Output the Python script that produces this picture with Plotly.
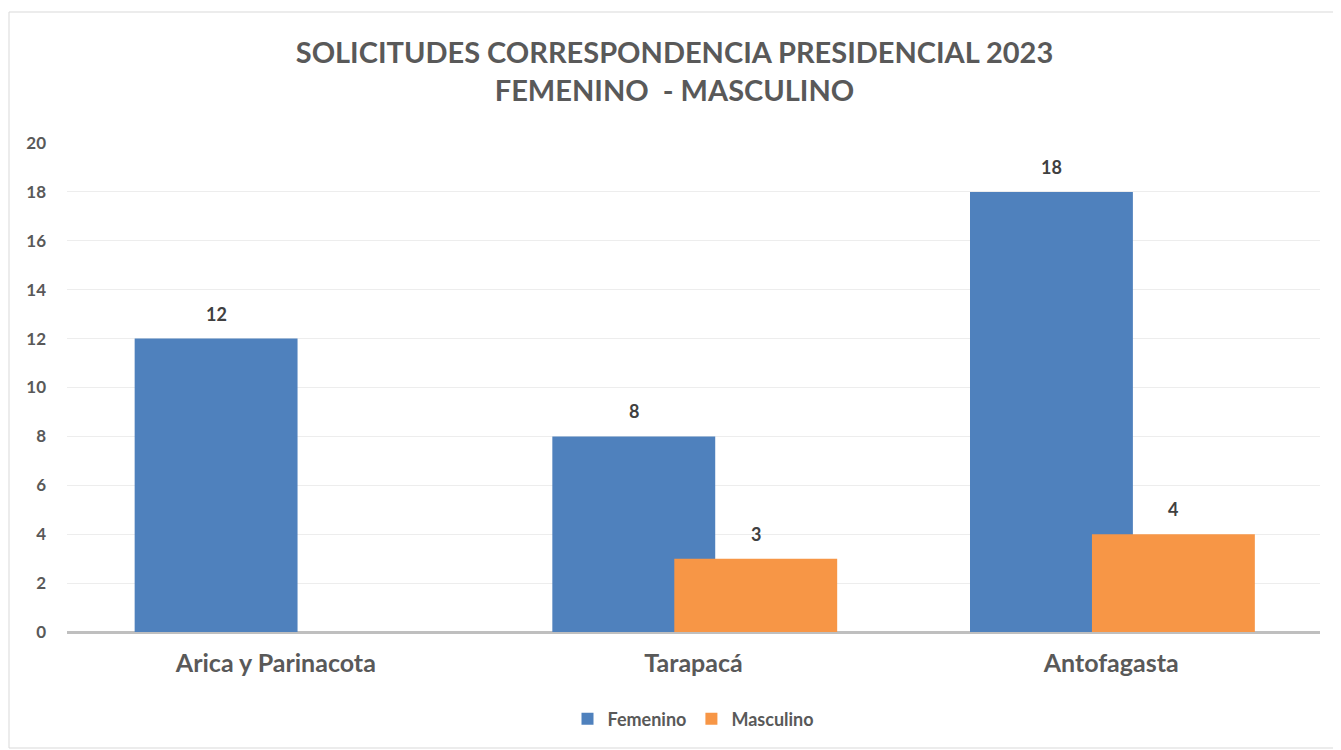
import plotly.graph_objects as go

categories = ["Arica y Parinacota", "Tarapacá", "Antofagasta"]
femenino = [12, 8, 18]
masculino = [0, 3, 4]
series_names = ["Femenino", "Masculino"]
y_ticks = [0, 2, 4, 6, 8, 10, 12, 14, 16, 18, 20]

# page body has an 8px margin, so the figure is drawn offset by 8px
OFF = 8
W, H = 1341 - OFF, 750 - OFF
L = 67 - OFF
T = 143 - OFF
R = W - (1320 - OFF)
B = H - (632 - OFF)
plot_w = W - L - R
plot_h = H - T - B
cat_px = plot_w / len(categories)

BLUE = "#4F81BD"
ORANGE = "#F79646"
FONT = "Lato, Carlito, 'Open Sans', sans-serif"

bar_w = 0.39
off_f = -0.338
off_m = -0.046

fig = go.Figure()
fig.add_trace(go.Bar(x=categories, y=femenino, name=series_names[0],
                     marker=dict(color=BLUE, line=dict(width=0)),
                     width=bar_w, offset=off_f))
fig.add_trace(go.Bar(x=categories, y=masculino, name=series_names[1],
                     marker=dict(color=ORANGE, line=dict(width=0)),
                     width=bar_w, offset=off_m))

annotations = []
for vals, off in ((femenino, off_f), (masculino, off_m)):
    for c, v in zip(categories, vals):
        if v == 0:
            continue
        annotations.append(dict(x=c, y=v, xref="x", yref="y", text=f"<b>{v}</b>",
                                showarrow=False, yanchor="bottom",
                                xshift=(off + bar_w / 2) * cat_px, yshift=12,
                                font=dict(family=FONT, size=18, color="#404040")))

fig.update_layout(
    width=W, height=H,
    margin=dict(l=L, r=R, t=T, b=B),
    paper_bgcolor="white", plot_bgcolor="white",
    barmode="overlay",
    title=dict(text="<b>SOLICITUDES CORRESPONDENCIA PRESIDENCIAL 2023<br>FEMENINO  - MASCULINO</b>",
               x=0.5, xanchor="center", y=1 - (72 - OFF - 9) / H, yanchor="middle",
               font=dict(family=FONT, size=29, color="#595959")),
    font=dict(family=FONT, color="#595959"),
    xaxis=dict(showgrid=False, showline=False, ticks="",
               tickfont=dict(family=FONT, size=25, color="#595959", weight="bold"),
               ticklabelstandoff=14),
    yaxis=dict(range=[0, 20], tickvals=y_ticks, showgrid=True, gridcolor="#EDEDED",
               gridwidth=1, zeroline=True, zerolinecolor="#BFBFBF", zerolinewidth=3,
               showline=False, ticks="", ticklabelstandoff=20,
               tickfont=dict(family=FONT, size=17, color="#595959", weight="bold")),
    legend=dict(orientation="h", x=0.5, xanchor="center", y=(632 - 719) / plot_h,
                yanchor="middle",
                font=dict(family=FONT, size=18, color="#595959", weight="bold"),
                itemwidth=30, traceorder="normal"),
    annotations=annotations,
    shapes=[dict(type="rect", xref="paper", yref="paper",
                 x0=(9 - 67) / plot_w, x1=(1337 - 67) / plot_w,
                 y0=(632 - 748) / plot_h, y1=(632 - 12) / plot_h,
                 line=dict(color="#D9D9D9", width=1), fillcolor="rgba(0,0,0,0)",
                 layer="below")],
)

fig.write_html("out.html")
